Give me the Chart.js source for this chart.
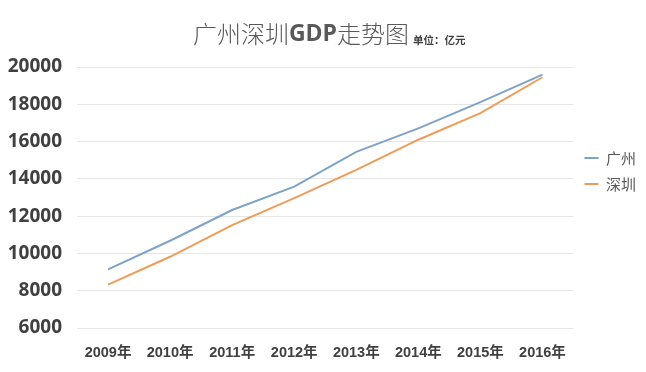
<!DOCTYPE html>
<html>
<head>
<meta charset="utf-8">
<script src="https://cdn.jsdelivr.net/npm/chart.js@4"></script>
<style>
  html, body { margin: 0; padding: 0; background: #fff; }
  #wrap { width: 646px; height: 372px; }
</style>
</head>
<body>
<div id="wrap"><canvas id="gdpChart"></canvas></div>
<script>
const years = ['2009年', '2010年', '2011年', '2012年', '2013年', '2014年', '2015年', '2016年'];
const guangzhou = [9140, 10680, 12330, 13580, 15450, 16710, 18120, 19590];
const shenzhen = [8330, 9820, 11520, 12970, 14480, 16100, 17530, 19450];
const titleParts = ['广州深圳', 'GDP', '走势图'];
const unitText = '单位：亿元';

const cjk = '"Noto Sans CJK SC", "Noto Sans", sans-serif';

// title drawn by hand: mixed weights plus the small unit note
const titlePlugin = {
    id: 'mixedTitle',
    afterDraw(chart) {
        const ctx = chart.ctx;
        ctx.save();
        ctx.textBaseline = 'middle';
        const fonts = ['300 24px ' + cjk, 'bold 23px "Open Sans", ' + cjk, '300 24px ' + cjk];
        let widths = titleParts.map((t, i) => { ctx.font = fonts[i]; return ctx.measureText(t).width; });
        let total = widths.reduce((a, b) => a + b, 0);
        let x = 301 - total / 2;
        ctx.fillStyle = '#595959';
        titleParts.forEach((t, i) => {
            ctx.font = fonts[i];
            ctx.fillText(t, x, 34);
            x += widths[i];
        });
        ctx.font = 'bold 10.5px ' + cjk;
        ctx.fillStyle = '#404040';
        ctx.fillText(unitText, x + 4, 40);
        ctx.restore();
    }
};

new Chart(document.getElementById('gdpChart'), {
    type: 'line',
    data: {
        labels: years,
        datasets: [{
            label: '广州',
            data: guangzhou,
            borderColor: '#7fa3c7',
            backgroundColor: '#7fa3c7',
            borderWidth: 2,
            pointRadius: 0,
            tension: 0
        }, {
            label: '深圳',
            data: shenzhen,
            borderColor: '#ef9c58',
            backgroundColor: '#ef9c58',
            borderWidth: 2,
            pointRadius: 0,
            tension: 0
        }]
    },
    options: {
        responsive: true,
        maintainAspectRatio: false,
        animation: false,
        layout: { padding: { top: 67, bottom: 0, left: 0, right: 0 } },
        plugins: {
            legend: {
                position: 'right',
                align: 'start',
                fullSize: false,
                title: { display: true, text: ' ', padding: { top: 58, bottom: 0 } },
                labels: {
                    usePointStyle: true,
                    pointStyle: 'line',
                    pointStyleWidth: 14,
                    padding: 11,
                    color: '#595959',
                    font: { family: cjk, size: 15 }
                }
            },
            tooltip: { enabled: false }
        },
        scales: {
            x: {
                offset: true,
                afterFit(scale) { scale.height = 44; },
                grid: { display: false, drawTicks: false },
                border: { display: false },
                ticks: {
                    padding: 16,
                    color: '#404040',
                    maxRotation: 0,
                    font: { family: '"Liberation Sans", ' + cjk, size: 14.5, weight: 'bold' }
                }
            },
            y: {
                min: 6000,
                max: 20000,
                afterFit(scale) { scale.width = 77; },
                grid: { color: '#e6e6e6', drawTicks: false },
                border: { display: false },
                ticks: {
                    stepSize: 2000,
                    padding: 15,
                    color: '#404040',
                    callback: v => String(v),
                    font: { family: '"Noto Sans", sans-serif', size: 19, weight: 'bold' }
                }
            }
        }
    },
    plugins: [titlePlugin]
});
</script>
</body>
</html>
